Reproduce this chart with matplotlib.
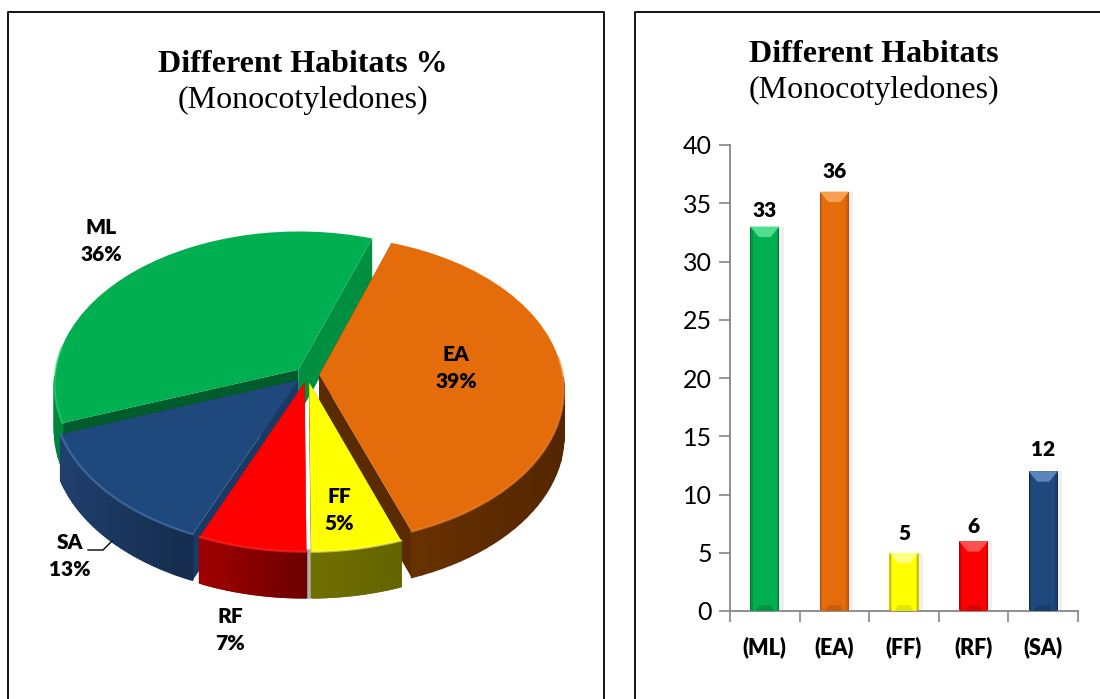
import numpy as np
import matplotlib
matplotlib.use("Agg")
import matplotlib.pyplot as plt
from matplotlib.colors import to_rgb
from matplotlib.transforms import Transform

plt.rcParams['font.family'] = ['Lato', 'DejaVu Sans']

habitats = ['ML', 'EA', 'FF', 'RF', 'SA']
counts = [33, 36, 5, 6, 12]
y_ticks = [0, 5, 10, 15, 20, 25, 30, 35, 40]

top_colors = ['#00B050', '#E46C0A', '#FFFF00', '#FF0000', '#1F497D']
rim_colors = ['#2FD077', '#F08A35', '#FFFF66', '#FF3030', '#4F7DB5']
wall_left = ['#00863C', '#6A3200', '#707000', '#A00000', '#1F3F6D']
wall_right = ['#00863C', '#542600', '#646400', '#6E0000', '#142C4C']
face_colors = ['#005C2A', '#5A2A00', '#707000', '#A00000', '#1A3A66']
face2_colors = ['#008F40', '#5A2A00', '#707000', '#A00000', '#1A3A66']
bar_dark = ['#007A38', '#B4520A', '#C8C800', '#B80000', '#142F54']
bar_light = ['#4FE08F', '#F9A050', '#FFFF80', '#FF5050', '#5B86BC']
label_gap = [16, 20, 19, 15, 22]

# pie position on the page, in pixels
CX, CY, RX, RY, K = 307, 375, 243.5, 152, 0.093
DEPTH = 46
W, H = 1100, 699


def proj(u, v):
    d = 1 + K * v
    return CX + RX * u / d, CY - RY * v / d


class PieView(Transform):
    input_dims = 2
    output_dims = 2
    is_affine = False

    def transform_non_affine(self, values):
        x, y = proj(values[:, 0], values[:, 1])
        return np.column_stack([x, y])


fig = plt.figure(figsize=(W / 100, H / 100), dpi=100)
ax = fig.add_axes([0, 0, 1, 1])

wedges, _ = ax.pie(counts, startangle=200, counterclock=False, explode=[0.05] * 5, radius=1)
ax.set_aspect('auto')
ax.set_xlim(0, W)
ax.set_ylim(H, 0)
ax.axis('off')

# page frames
ax.plot([8, 8, 604, 604], [H + 5, 12, 12, H + 5], color='black', lw=1.3)
ax.plot([635, 635, W + 5], [H + 5, 12, 12], color='black', lw=1.3)

# gap between the two front slices, behind the slices
ff = wedges[2]
gx, gy = proj(ff.center[0] - 0.006, ff.center[1] - 1.0)
ax.plot([gx, gx], [gy, gy + DEPTH - 2], color='#B0B0B0', lw=4, zorder=2)

# paint back to front
z = 3
for name in ['ML', 'EA', 'SA', 'RF', 'FF']:
    i = habitats.index(name)
    w = wedges[i]
    cu, cv = w.center
    t = np.radians(np.linspace(w.theta1, w.theta2, 60))
    px, py = proj(cu + np.cos(t), cv + np.sin(t))
    ax0, ay0 = proj(cu, cv)

    # cut faces
    ax.fill([ax0, px[-1], px[-1], ax0], [ay0, py[-1], py[-1] + DEPTH, ay0 + DEPTH],
            color=face_colors[i], lw=0, zorder=z)
    ax.fill([ax0, px[0], px[0], ax0], [ay0, py[0], py[0] + DEPTH, ay0 + DEPTH],
            color=face2_colors[i], lw=0, zorder=z)

    # outer wall, shaded left to right, front part only
    c0 = np.array(to_rgb(wall_left[i]))
    c1 = np.array(to_rgb(wall_right[i]))
    for j in range(len(t) - 1):
        if np.sin(t[j]) > -0.03:
            continue
        f = (px[j] - px.min()) / max(px.max() - px.min(), 1)
        ax.fill([px[j], px[j + 1], px[j + 1], px[j]],
                [py[j], py[j + 1], py[j + 1] + DEPTH, py[j] + DEPTH],
                color=c0 + (c1 - c0) * f, lw=1.2, zorder=z)

    w.set_facecolor(top_colors[i])
    w.set_edgecolor('none')
    w.set_transform(PieView() + ax.transData)
    w.set_zorder(z + 1)
    front = np.sin(t) < 0.15
    ax.plot(px[front], py[front], color=rim_colors[i], lw=1.6, alpha=0.6, zorder=z + 2)
    z += 3

total = sum(counts)
label_pos = {'ML': (101, 241), 'EA': (456, 368), 'FF': (339, 510), 'SA': (70, 556), 'RF': (230, 630)}
for name, c in zip(habitats, counts):
    lx, ly = label_pos[name]
    ax.text(lx, ly, f"{name}\n{round(100 * c / total)}%", ha='center', va='center',
            fontsize=15, fontweight='heavy', color='black', linespacing=1.55, zorder=40)
ax.plot([88, 103, 112], [550, 550, 541], color='black', lw=1, zorder=40)

serif = 'Liberation Serif'
ax.text(303, 65, 'Different Habitats %', family=serif, fontweight='bold', fontsize=23,
        ha='center', va='center')
ax.text(303, 100, '(Monocotyledones)', family=serif, fontsize=23, ha='center', va='center')
ax.text(874, 55, 'Different Habitats', family=serif, fontweight='bold', fontsize=23,
        ha='center', va='center')
ax.text(874, 90, '(Monocotyledones)', family=serif, fontsize=23, ha='center', va='center')

# bar chart
bx = fig.add_axes([730 / W, (H - 611) / H, 348 / W, 466 / H])
bx.patch.set_alpha(0)
pos = np.arange(len(habitats))
bw = 0.42
bx.bar(pos + 0.04, counts, width=bw + 0.04, color='#000000', alpha=0.06, zorder=1)
bars = bx.bar(pos, counts, width=bw, color=bar_dark, zorder=2)
mid = [tuple((np.array(to_rgb(a)) + np.array(to_rgb(b))) / 2) for a, b in zip(bar_dark, top_colors)]
bx.bar(pos, counts, width=bw * 0.92, color=mid, zorder=3)
bx.bar(pos, counts, width=bw * 0.82, color=top_colors, zorder=4)
for p, c, b, lite, dk, gap in zip(pos, counts, bars, bar_light, bar_dark, label_gap):
    x0 = b.get_x()
    x1 = x0 + b.get_width()
    inset = b.get_width() * 0.3
    bx.fill([x0, x1, x1 - inset, x0 + inset], [c, c, c - 0.9, c - 0.9], color=lite, lw=0, zorder=5)
    bx.fill([x0 + inset * 0.6, x1 - inset * 0.6, x1 - inset, x0 + inset], [0, 0, 0.5, 0.5],
            color=dk, alpha=0.5, lw=0, zorder=5)
    bx.annotate(str(c), (p, c), xytext=(0, gap * 0.72), textcoords='offset points',
                ha='center', va='center', fontsize=15, fontweight='heavy')

bx.set_xlim(-0.5, 4.5)
bx.set_ylim(0, 40)
bx.set_yticks(y_ticks)
bx.set_xticks(pos)
bx.set_xticklabels([f"({h})" for h in habitats], fontsize=15.5, fontweight='heavy')
bx.set_xticks(np.arange(-0.5, 5, 1), minor=True)
bx.tick_params(axis='x', which='major', length=0, pad=18)
bx.tick_params(axis='x', which='minor', length=8, width=1.2, color='#868686')
bx.tick_params(axis='y', length=8, width=1.2, color='#868686', labelsize=18, pad=5)
for s in ['top', 'right']:
    bx.spines[s].set_visible(False)
for s in ['left', 'bottom']:
    bx.spines[s].set_color('#868686')
    bx.spines[s].set_linewidth(1.3)

fig.savefig('out.png', dpi=100)
